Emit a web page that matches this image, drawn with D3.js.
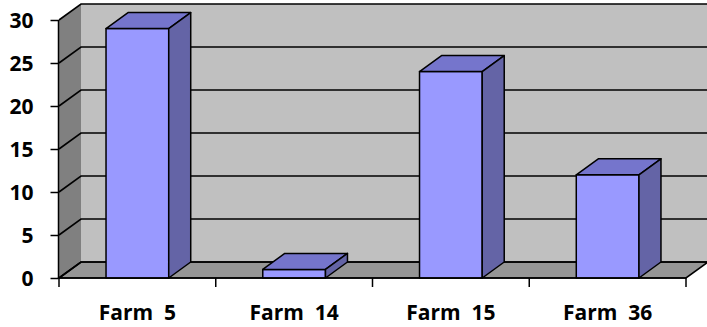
<!DOCTYPE html>
<html>
<head>
<meta charset="utf-8">
<script src="https://cdn.jsdelivr.net/npm/d3@7"></script>
<style>
  body { margin: 0; background: #fff; }
  text { font-family: "Open Sans", sans-serif; font-weight: bold; fill: #000; }
</style>
</head>
<body>
<div></div>
<script>
var categories = ["Farm  5", "Farm  14", "Farm  15", "Farm  36"];
var values = [29, 1, 24, 12];
var yTicks = [0, 5, 10, 15, 20, 25, 30];

var widthSvg = 707,
    heightSvg = 327;

var svg = d3.select("div").append("svg")
    .attr("width", widthSvg)
    .attr("height", heightSvg);

// depth offset of the 3d box
var dx = 22, dy = -16;

var xScale = d3.scaleBand()
    .domain(categories)
    .range([59, 686])
    .padding(0);

var yScale = d3.scaleLinear()
    .domain([0, 30])
    .range([278, 20]);

var x0 = xScale.range()[0], x1 = xScale.range()[1];
var yTop = yScale(30), yBot = yScale(0);

function poly(pts) {
    return "M" + pts.map(function (p) { return p.join(","); }).join("L") + "Z";
}

// side wall
svg.append("path")
    .attr("d", poly([[x0, yBot], [x0, yTop], [x0 + dx, yTop + dy], [x0 + dx, yBot + dy]]))
    .attr("fill", "#808080");

// back wall
svg.append("path")
    .attr("d", poly([[x0 + dx, yTop + dy], [x1 + dx, yTop + dy], [x1 + dx, yBot + dy], [x0 + dx, yBot + dy]]))
    .attr("fill", "#c0c0c0");

// floor
svg.append("path")
    .attr("d", poly([[x0, yBot], [x0 + dx, yBot + dy], [x1 + dx, yBot + dy], [x1, yBot]]))
    .attr("fill", "#969696")
    .attr("stroke", "#000")
    .attr("stroke-width", 1.6);

// gridlines on walls
var grid = svg.append("g")
    .attr("stroke", "#000")
    .attr("stroke-width", 1.6)
    .attr("fill", "none");

grid.selectAll("path")
    .data(yTicks)
    .enter()
    .append("path")
    .attr("d", function (d) {
        var y = yScale(d);
        return "M" + x0 + "," + y + "L" + (x0 + dx) + "," + (y + dy) + "L" + (x1 + dx) + "," + (y + dy);
    });

// bars
var barW = xScale.bandwidth() * 0.4;

var bars = svg.append("g")
    .attr("stroke", "#000")
    .attr("stroke-width", 1.5)
    .attr("stroke-linejoin", "round")
    .selectAll("g")
    .data(categories.map(function (c, i) { return { name: c, value: values[i] }; }))
    .enter()
    .append("g");

function bx(d) {
    return xScale(d.name) + (xScale.bandwidth() - barW) / 2;
}

bars.append("path")
    .attr("fill", "#9999ff")
    .attr("d", function (d) {
        var a = bx(d), b = a + barW, yv = yScale(d.value);
        return poly([[a, yBot], [a, yv], [b, yv], [b, yBot]]);
    });

bars.append("path")
    .attr("fill", "#7575cc")
    .attr("d", function (d) {
        var a = bx(d), b = a + barW, yv = yScale(d.value);
        return poly([[a, yv], [a + dx, yv + dy], [b + dx, yv + dy], [b, yv]]);
    });

bars.append("path")
    .attr("fill", "#6464a6")
    .attr("d", function (d) {
        var b = bx(d) + barW, yv = yScale(d.value);
        return poly([[b, yv], [b + dx, yv + dy], [b + dx, yBot + dy], [b, yBot]]);
    });

// y axis
var yAxis = svg.append("g")
    .attr("transform", "translate(" + (x0 - 0.5) + ",0)")
    .call(d3.axisLeft(yScale).tickValues(yTicks).tickSize(8).tickPadding(17));

yAxis.selectAll("line, path").attr("stroke", "#000").attr("stroke-width", 1.5);
yAxis.select(".domain").attr("d", "M0," + yTop + "V" + yBot);
yAxis.selectAll("text")
    .attr("font-size", 21)
    .attr("font-family", null)
    .attr("dy", "0.36em");

// x axis: line, boundary ticks and labels
var xAxis = svg.append("g")
    .attr("transform", "translate(0," + yBot + ")");

xAxis.append("path")
    .attr("d", "M" + x0 + ",0H" + x1)
    .attr("stroke", "#000")
    .attr("stroke-width", 1.5);

xAxis.selectAll("line")
    .data(categories.concat([null]))
    .enter()
    .append("line")
    .attr("x1", function (d) { return d === null ? x1 : xScale(d); })
    .attr("x2", function (d) { return d === null ? x1 : xScale(d); })
    .attr("y1", 0)
    .attr("y2", 9)
    .attr("stroke", "#000")
    .attr("stroke-width", 1.5);

xAxis.selectAll("text")
    .data(categories)
    .enter()
    .append("text")
    .attr("x", function (d) { return xScale(d) + xScale.bandwidth() / 2; })
    .attr("y", 42)
    .attr("text-anchor", "middle")
    .attr("font-size", 21)
    .style("white-space", "pre")
    .text(function (d) { return d; });
</script>
</body>
</html>
